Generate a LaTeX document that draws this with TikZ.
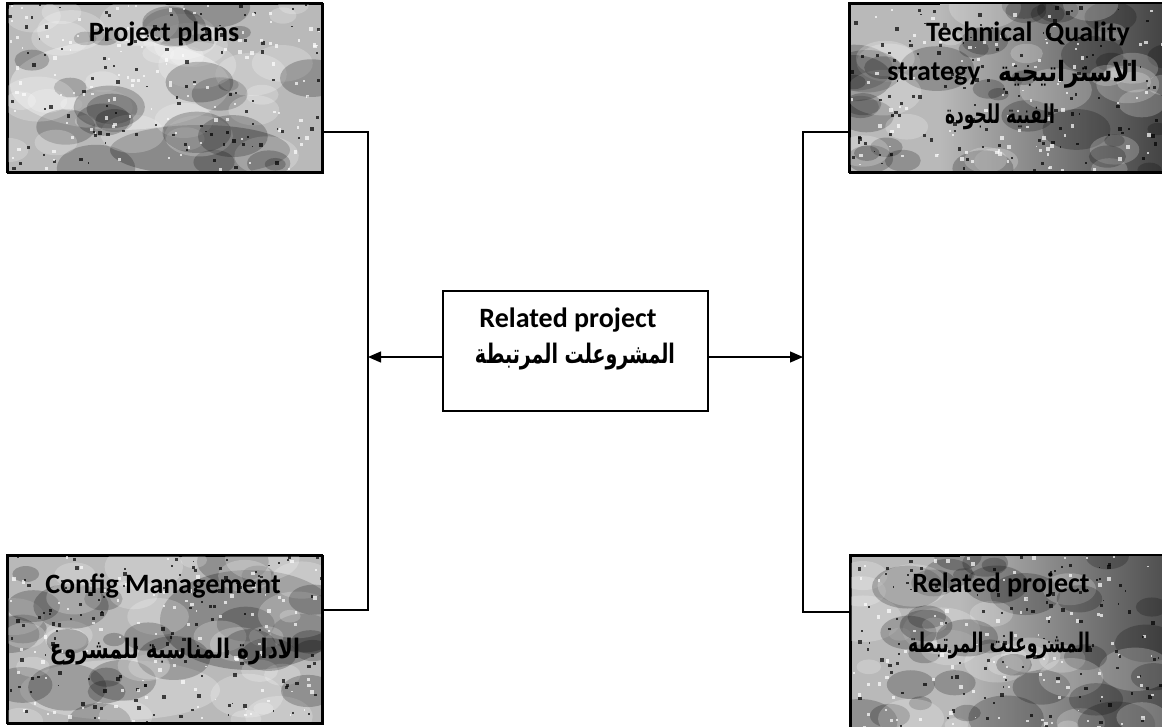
\documentclass[tikz,border=0pt]{standalone}
\usepackage{fontspec}
\usepackage{graphicx}
\setmainfont{Carlito}
\newfontfamily\arabicfont[Script=Arabic]{DejaVu Sans}
\TeXXeTstate=1
\usetikzlibrary{arrows.meta}
\newcommand{\arb}[3]{\resizebox*{#1pt}{#2pt}{\arabicfont\bfseries #3}}
\tikzset{
  gbox/.style={draw=black, line width=2pt, fill=gray!55, inner sep=0pt, anchor=north west},
  cbox/.style={draw=black, line width=1.6pt, fill=white, inner sep=0pt, anchor=north west},
  txt/.style={font=\fontsize{28}{30}\selectfont\bfseries, inner sep=0pt},
  link/.style={line width=1.3pt},
  arr/.style={line width=1.3pt, -{Triangle[length=13pt,width=11pt]}}
}
\newcommand{\mottle}[6]{% x y w h seed darkbias
  \begin{scope}
    \clip (#1,#2) rectangle ++(#3,#4);
    \pgfmathsetseed{#5}
    \foreach \i in {1,...,55}{
      \pgfmathsetmacro\px{#1+rnd*#3}
      \pgfmathsetmacro\py{#2+rnd*#4}
      \pgfmathsetmacro\pr{10+rnd*30}
      \pgfmathsetmacro\pc{rnd>#6 ? 100 : 0}
      \fill[black!\pc, opacity=0.22] (\px,\py) ellipse ({\pr} and {\pr*0.6});
    }
    \foreach \i in {1,...,220}{
      \pgfmathsetmacro\px{#1+rnd*#3}
      \pgfmathsetmacro\py{#2+rnd*#4}
      \pgfmathsetmacro\ps{1.5+rnd*2.5}
      \pgfmathsetmacro\pc{rnd>#6 ? 100 : 0}
      \fill[black!\pc, opacity=0.7] (\px,\py) rectangle ++(\ps,\ps);
    }
  \end{scope}}
\begin{document}
\begin{tikzpicture}[x=1pt,y=-1pt]
\useasboundingbox (0,0) rectangle (1162,726);
% boxes
\node[gbox, minimum width=315pt, minimum height=169pt] (tl) at (7,3) {};
\node[gbox, minimum width=330pt, minimum height=169pt] (tr) at (849,3) {};
\node[gbox, minimum width=315pt, minimum height=168pt] (bl) at (7,555) {};
\node[gbox, minimum width=330pt, minimum height=175pt] (br) at (850,555) {};
\shade[left color=gray!55, right color=black!75] (940,4) rectangle (1170,171);
\shade[left color=gray!55, right color=black!70] (960,556) rectangle (1170,726);
\begin{scope}
  \clip (8,4) rectangle (321,171);
  \fill[white, opacity=0.35] (120,85) ellipse (110 and 45);
  \fill[black, opacity=0.25] (200,150) ellipse (90 and 25);
\end{scope}
\begin{scope}
  \clip (8,556) rectangle (321,722);
  \fill[black, opacity=0.25] (250,620) ellipse (90 and 50);
  \fill[white, opacity=0.25] (120,690) ellipse (100 and 30);
\end{scope}
\mottle{8}{4}{313}{167}{11}{0.5}
\mottle{850}{4}{320}{167}{23}{0.45}
\mottle{8}{556}{313}{166}{37}{0.45}
\mottle{851}{556}{320}{172}{41}{0.5}
\draw[line width=2pt] (7,3) rectangle (322,172);
\draw[line width=2pt] (849,3) rectangle (1179,172);
\draw[line width=2pt] (7,555) rectangle (322,723);
\draw[line width=2pt] (850,555) rectangle (1180,730);
\node[cbox, minimum width=265pt, minimum height=120pt] (c) at (442,290) {};
% texts
\node[txt] (tlt) at (164,34) {Project plans};
\node[txt] (tr1) at (1028,34) {Technical\ \ Quality};
\node[txt] (tr2) at (934,74) {strategy};
\node[inner sep=0pt] (tr3) at (1068,74) {\arb{140}{28}{\beginR الاستراتيجية\endR}};
\node[inner sep=0pt] (tr4) at (1000,117) {\arb{110}{26}{\beginR الفنية للجودة\endR}};
\node[txt] (blt) at (163,586) {Config Management};
\node[inner sep=0pt] (bla) at (175,652) {\arb{250}{27}{\beginR الادارة المناسبة للمشروع\endR}};
\node[txt] (brt) at (1001,585) {Related project};
\node[inner sep=0pt] (bra) at (999,646) {\arb{182}{27}{\beginR المشروعلت المرتبطة\endR}};
\node[txt] (ct) at (568,320) {Related project};
\node[inner sep=0pt] (ca) at (575,357) {\arb{200}{27}{\beginR المشروعلت المرتبطة\endR}};
% connectors
\coordinate (lt) at (368,132);
\coordinate (lb) at (368,610);
\coordinate (lm) at (368,357);
\coordinate (rt) at (803,132);
\coordinate (rb) at (803,612);
\coordinate (rm) at (803,357);
\draw[link] (tl.east |- lt) -- (lt) -- (lb) -- (bl.east |- lb);
\draw[link] (tr.west |- rt) -- (rt) -- (rb) -- (br.west |- rb);
\draw[arr] (c.west |- lm) -- (lm);
\draw[arr] (c.east |- rm) -- (rm);
\end{tikzpicture}
\end{document}
